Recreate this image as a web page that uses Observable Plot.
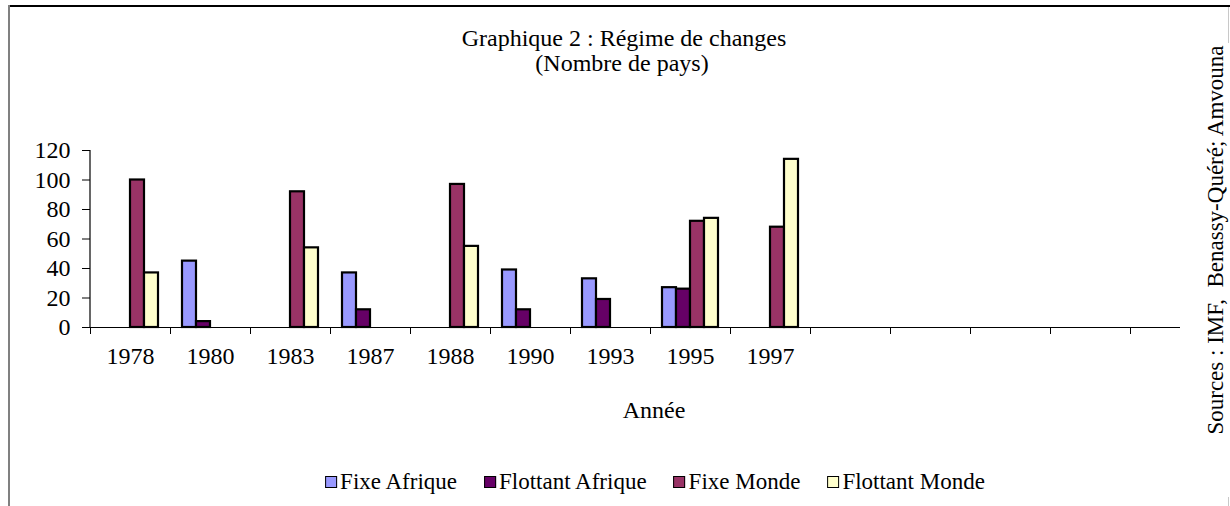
<!DOCTYPE html>
<html>
<head>
<meta charset="utf-8">
<script src="https://cdn.jsdelivr.net/npm/d3@7"></script>
<script src="https://cdn.jsdelivr.net/npm/@observablehq/plot@0.6"></script>
<style>
  html, body { margin: 0; padding: 0; background: #fff; }
  #wrap { position: relative; width: 1230px; height: 506px; overflow: hidden; font-family: "Liberation Serif", "Times New Roman", serif; color: #000; background: #fff; }
  #chart { position: absolute; left: 0; top: 0; }
  .t { position: absolute; white-space: pre; font-size: 24px; line-height: 1; transform: translate(-50%, -50%); }
  #legend { position: absolute; left: 655px; top: 482px; transform: translate(-50%, -50%); display: flex; align-items: center; gap: 27px; font-size: 23px; white-space: nowrap; }
  #legend .item { display: flex; align-items: center; gap: 3px; }
  #legend .sw { width: 10px; height: 10px; border: 1.5px solid #000; }
  #srcbox { position: absolute; left: 1180px; top: 7px; width: 48px; height: 499px; background: #fff; }
  #src { position: absolute; left: 1215px; top: 240px; font-size: 23px; white-space: pre; transform: translate(-50%, -50%) rotate(-90deg); line-height: 1; }
</style>
</head>
<body>
<div id="wrap">
  <div id="chart"></div>
  <div id="srcbox"></div>
  <div style="position:absolute;left:8px;top:5px;width:1222px;height:2px;background:#000"></div>
  <div style="position:absolute;left:8px;top:5px;width:2px;height:501px;background:#808080"></div>
  <div style="position:absolute;left:1228px;top:7px;width:1px;height:36px;background:#c8c8c8"></div>
  <div style="position:absolute;left:1228px;top:497px;width:1px;height:9px;background:#c8c8c8"></div>
  <div class="t" id="title1" style="left:624px;top:38px"></div>
  <div class="t" id="title2" style="left:622px;top:63px"></div>
  <div class="t" id="xlabel" style="left:654px;top:410px"></div>
  <div id="legend"></div>
  <div id="src"></div>
</div>
<script>
// ---- Data ----
const title = "Graphique 2 : Régime de changes";
const subtitle = "(Nombre de pays)";
const xTitle = "Année";
const sourceText = "Sources : IMF,  Benassy-Quéré; Amvouna";
const years = ["1978", "1980", "1983", "1987", "1988", "1990", "1993", "1995", "1997"];
const emptyCategories = [" ", "  ", "   ", "    ", "     "];
const seriesNames = ["Fixe Afrique", "Flottant Afrique", "Fixe Monde", "Flottant Monde"];
const seriesColors = ["#9999FF", "#660066", "#993366", "#FFFFCC"];
const fixeAfrique     = [null, 45, null, 37, null, 39, 33, 27, null];
const flottantAfrique = [null, 4, null, 12, null, 12, 19, 26, null];
const fixeMonde       = [100, null, 92, null, 97, null, null, 72, 68];
const flottantMonde   = [37, null, 54, null, 55, null, null, 74, 114];
const yTicks = [0, 20, 40, 60, 80, 100, 120];

// ---- Build table ----
const seriesValues = [fixeAfrique, flottantAfrique, fixeMonde, flottantMonde];
const rows = [];
years.forEach((year, i) => {
  seriesNames.forEach((name, s) => {
    const v = seriesValues[s][i];
    if (v != null) rows.push({year, series: name, value: v});
  });
});
const categories = years.concat(emptyCategories);

const W = 1230, H = 506;
const mLeft = 90, mRight = 20, mTop = 150, mBottom = 179;
const halfBand = (W - mLeft - mRight) / categories.length / 2;

const chart = Plot.plot({
  width: W,
  height: H,
  marginLeft: mLeft,
  marginRight: mRight,
  marginTop: mTop,
  marginBottom: mBottom,
  style: {fontFamily: "Liberation Serif, Times New Roman, serif", fontSize: "24px", color: "#000", background: "transparent"},
  fx: {domain: categories, paddingInner: 0, paddingOuter: 0, label: null},
  x: {domain: seriesNames, paddingInner: 0, paddingOuter: 0.71, axis: null},
  y: {domain: [0, 120], label: null},
  color: {domain: seriesNames, range: seriesColors},
  marks: [
    Plot.barY(rows, {fx: "year", x: "series", y: "value", fill: "series", stroke: "#000", strokeWidth: 2.2, inset: 0}),
    Plot.ruleY(categories, {fx: d => d, y: () => 0, stroke: "#000", strokeWidth: 1.2}),
    Plot.axisY({ticks: yTicks, tickSize: 8, tickPadding: 12, label: null, fontSize: 24, tickFormat: d => String(d)}),
    Plot.axisFx({anchor: "bottom", tickSize: 0, tickPadding: 19, label: null, fontSize: 24}),
    Plot.axisFx({anchor: "bottom", tickSize: 7, tickFormat: () => "", label: null, dx: -halfBand})
  ]
});
document.getElementById("chart").appendChild(chart);

// y-axis line derived from the scales
const fxScale = chart.scale("fx");
const yScale = chart.scale("y");
d3.select(chart).append("line")
  .attr("x1", fxScale.range[0]).attr("x2", fxScale.range[0])
  .attr("y1", yScale.apply(yTicks[yTicks.length - 1])).attr("y2", yScale.apply(0))
  .attr("stroke", "#000").attr("stroke-width", 1.2);

// ---- Texts ----
document.getElementById("title1").textContent = title;
document.getElementById("title2").textContent = subtitle;
document.getElementById("xlabel").textContent = xTitle;
document.getElementById("src").textContent = sourceText;

const legend = document.getElementById("legend");
seriesNames.forEach((name, i) => {
  const item = document.createElement("div");
  item.className = "item";
  const sw = document.createElement("div");
  sw.className = "sw";
  sw.style.background = seriesColors[i];
  const label = document.createElement("span");
  label.textContent = name;
  item.appendChild(sw);
  item.appendChild(label);
  legend.appendChild(item);
});
</script>
</body>
</html>
